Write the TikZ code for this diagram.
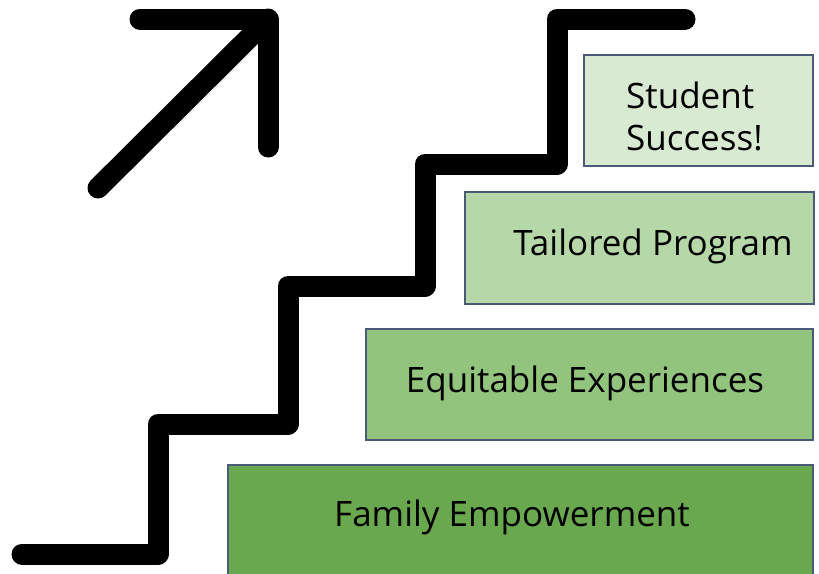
\documentclass[tikz,border=0pt]{standalone}
\usepackage{fontspec}
\setmainfont{Open Sans}
\definecolor{edgec}{HTML}{4A5A78}
\definecolor{gA}{HTML}{D9EAD3}
\definecolor{gB}{HTML}{B6D7A8}
\definecolor{gC}{HTML}{93C47D}
\definecolor{gD}{HTML}{6AA84F}
\begin{document}
\begin{tikzpicture}[x=1pt,y=-1pt,
  box/.style={draw=edgec,line width=1.7pt,anchor=north west,inner sep=0pt},
  lbl/.style={font=\fontsize{35}{42}\selectfont,text=black,inner sep=0pt},
  stroke/.style={line width=21pt,line cap=round,line join=round,black}]
\useasboundingbox (0,0) rectangle (819,573);
% boxes
\node[box,fill=gA,minimum width=229pt,minimum height=111pt] (bA) at (583,54) {};
\node[box,fill=gB,minimum width=349pt,minimum height=112pt] (bB) at (464,191) {};
\node[box,fill=gC,minimum width=447pt,minimum height=111pt] (bC) at (365,328) {};
\node[box,fill=gD,minimum width=585pt,minimum height=130pt] (bD) at (227,464) {};
% labels
\node[lbl,align=left,anchor=west] (tA) at (626,116) {Student\\Success!};
\node[lbl] (tB) at (653,246) {Tailored Program};
\node[lbl] (tC) at (585,383) {Equitable Experiences};
\node[lbl] (tD) at (512,517) {Family Empowerment};
% stairs
\coordinate (s0) at (22,554);
\coordinate (s1) at (158,554);
\coordinate (s2) at (158,424);
\coordinate (s3) at (288,424);
\coordinate (s4) at (288,286);
\coordinate (s5) at (425,286);
\coordinate (s6) at (425,164);
\coordinate (s7) at (557,164);
\coordinate (s8) at (557,19);
\coordinate (s9) at (685,19);
\draw[stroke] (s0) -- (s1) -- (s2) -- (s3) -- (s4) -- (s5) -- (s6) -- (s7) -- (s8) -- (s9);
% arrow
\coordinate (a0) at (98,188);
\coordinate (a1) at (268,19);
\coordinate (a2) at (140,19);
\coordinate (a3) at (268,147);
\draw[stroke] (a0) -- (a1);
\draw[stroke] (a2) -- (a1) -- (a3);
\end{tikzpicture}
\end{document}
